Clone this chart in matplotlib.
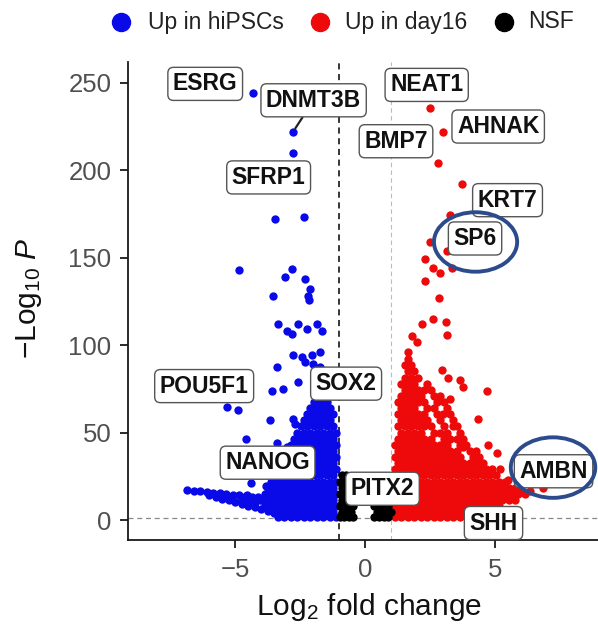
import matplotlib
matplotlib.use("Agg")
import matplotlib.pyplot as plt
from matplotlib.patches import Ellipse
from matplotlib.lines import Line2D
import numpy as np

plt.rcParams["font.family"] = ["Liberation Sans", "DejaVu Sans"]
plt.rcParams["mathtext.fontset"] = "custom"
plt.rcParams["mathtext.rm"] = "Liberation Sans"
plt.rcParams["mathtext.it"] = "Liberation Sans:italic"
plt.rcParams["mathtext.bf"] = "Liberation Sans:bold"

# ---- data: log2 fold change (lfc) and -log10 P (mlp) ----
# dense bands of genes, listed by -log10 P level
band_mlp = [1.6, 4.5, 8.0, 11.5, 15.0, 18.5, 22.0, 25.5, 29.0, 32.5, 36.0,
            39.5, 43.0, 46.5, 50.0, 53.5, 57.0, 60.5, 64.0, 67.5, 71.0,
            74.5, 78.0, 81.5, 85.0, 88.5, 92.0]

band_lfc_hipsc = [
    [-1.1, -1.35, -1.6, -1.85, -2.1, -2.35, -2.6, -2.85, -3.1, -3.35],
    [-1.22, -1.47, -1.72, -1.97, -2.22, -2.47, -2.72, -2.97, -3.22, -3.47],
    [-1.1, -1.35, -1.6, -1.85, -2.1, -2.35, -2.6, -2.85, -3.1, -3.35, -3.6, -3.85],
    [-1.22, -1.47, -1.72, -1.97, -2.22, -2.47, -2.72, -2.97, -3.22, -3.47, -3.72, -3.97],
    [-1.1, -1.35, -1.6, -1.85, -2.1, -2.35, -2.6, -2.85, -3.1, -3.35, -3.6, -3.85],
    [-1.22, -1.47, -1.72, -1.97, -2.22, -2.47, -2.72, -2.97, -3.22, -3.47, -3.72],
    [-1.1, -1.35, -1.6, -1.85, -2.1, -2.35, -2.6, -2.85, -3.1, -3.35, -3.6],
    [-1.22, -1.47, -1.72, -1.97, -2.22, -2.47, -2.72, -2.97, -3.22, -3.47],
    [-1.1, -1.35, -1.6, -1.85, -2.1, -2.35, -2.6, -2.85, -3.1, -3.35],
    [-1.22, -1.47, -1.72, -1.97, -2.22, -2.47, -2.72, -2.97, -3.22],
    [-1.1, -1.35, -1.6, -1.85, -2.1, -2.35, -2.6, -2.85, -3.1],
    [-1.22, -1.47, -1.72, -1.97, -2.22, -2.47, -2.72, -2.97],
    [-1.1, -1.35, -1.6, -1.85, -2.1, -2.35, -2.6, -2.85],
    [-1.22, -1.47, -1.72, -1.97, -2.22, -2.47, -2.72],
    [-1.1, -1.35, -1.6, -1.85, -2.1, -2.35, -2.6],
    [-1.22, -1.47, -1.72, -1.97, -2.22, -2.47],
    [-1.35, -1.6, -1.85, -2.1, -2.35],
    [-1.22, -1.47, -1.72, -1.97, -2.22],
    [-1.35, -1.6, -1.85, -2.1],
    [-1.47, -1.72, -1.97],
    [-1.6, -1.85],
]

band_lfc_day16 = [
    [1.15, 1.4, 1.65, 1.9, 2.15, 2.4, 2.65, 2.9, 3.15, 3.4, 3.65],
    [1.27, 1.52, 1.77, 2.02, 2.27, 2.52, 2.77, 3.02, 3.27, 3.52, 3.77, 4.02, 4.27, 4.52],
    [1.15, 1.4, 1.65, 1.9, 2.15, 2.4, 2.65, 2.9, 3.15, 3.4, 3.65, 3.9, 4.15, 4.4, 4.65, 4.9, 5.15],
    [1.27, 1.52, 1.77, 2.02, 2.27, 2.52, 2.77, 3.02, 3.27, 3.52, 3.77, 4.02, 4.27, 4.52, 4.77, 5.02, 5.27, 5.52, 5.77],
    [1.15, 1.4, 1.65, 1.9, 2.15, 2.4, 2.65, 2.9, 3.15, 3.4, 3.65, 3.9, 4.15, 4.4, 4.65, 4.9, 5.15, 5.4, 5.65, 5.9, 6.15],
    [1.27, 1.52, 1.77, 2.02, 2.27, 2.52, 2.77, 3.02, 3.27, 3.52, 3.77, 4.02, 4.27, 4.52, 4.77, 5.02, 5.27, 5.52, 5.77],
    [1.15, 1.4, 1.65, 1.9, 2.15, 2.4, 2.65, 2.9, 3.15, 3.4, 3.65, 3.9, 4.15, 4.4, 4.65, 4.9, 5.15, 5.4],
    [1.27, 1.52, 1.77, 2.02, 2.27, 2.52, 2.77, 3.02, 3.27, 3.52, 3.77, 4.02, 4.27, 4.52, 4.77, 5.02],
    [1.15, 1.4, 1.65, 1.9, 2.15, 2.4, 2.65, 2.9, 3.15, 3.4, 3.65, 3.9, 4.15, 4.4, 4.65, 4.9],
    [1.27, 1.52, 1.77, 2.02, 2.27, 2.52, 2.77, 3.02, 3.27, 3.52, 3.77, 4.02, 4.27, 4.52],
    [1.15, 1.4, 1.65, 1.9, 2.15, 2.4, 2.65, 2.9, 3.15, 3.4, 3.65, 4.15, 4.4],
    [1.27, 1.52, 1.77, 2.02, 2.27, 2.52, 2.77, 3.02, 3.27, 3.52, 4.02, 4.27],
    [1.15, 1.4, 1.65, 1.9, 2.15, 2.4, 2.65, 2.9, 3.15, 3.65, 3.9],
    [1.27, 1.52, 1.77, 2.02, 2.27, 2.52, 3.02, 3.27, 3.52, 3.77],
    [1.4, 1.65, 1.9, 2.15, 2.65, 2.9, 3.15, 3.65],
    [1.27, 1.52, 1.77, 2.02, 2.27, 2.52, 3.02, 3.52],
    [1.4, 1.65, 1.9, 2.15, 2.4, 2.9, 3.4],
    [1.27, 1.52, 1.77, 2.02, 2.27, 2.77, 3.27],
    [1.4, 1.65, 1.9, 2.4, 2.65, 3.15],
    [1.27, 1.52, 1.77, 2.02, 2.27, 2.77, 3.02],
    [1.4, 1.65, 1.9, 2.15, 2.65, 2.9],
    [1.52, 1.77, 2.02, 2.27, 2.52],
    [1.4, 1.65, 1.9, 2.4],
    [1.52, 1.77, 2.02],
    [1.65, 1.9],
    [1.52, 1.77],
    [1.65],
]

# long low-significance tail of hiPSC genes
tail_lfc = [-6.85, -6.6, -6.35, -6.1, -5.85, -5.6, -5.35, -5.1, -4.85, -4.6, -4.35, -4.1,
            -6.0, -5.75, -5.5, -5.25, -5.0, -4.75, -4.5, -4.25, -4.0, -3.75, -3.5,
            -4.75, -4.5, -4.25]
tail_mlp = [17.4, 16.9, 16.5, 16.1, 15.7, 15.3, 14.9, 14.5, 14.1, 13.7, 13.3, 12.9,
            14.4, 13.4, 12.3, 11.3, 10.3, 9.3, 8.3, 7.2, 6.2, 5.2, 4.2,
            11.8, 10.9, 10.2]

# isolated genes
single_lfc = [-3.46, -2.35, -4.85, -2.8, -3.08, -2.3, -2.1, -2.2, -2.15, -3.54,
              -3.35, -3.0, -2.8, -2.58, -2.23, -1.85, -1.65,
              -2.77, -2.42, -2.04, -1.73, -2.3, -2.0, -1.73, -3.38,
              -3.58, -3.15, -2.58, -3.65, -2.77, -2.7, -4.58, -4.9,
              -4.4, -3.8, -3.4, -4.54, -4.04, -3.4,
              2.5, 3.15, 2.3, 2.6, 2.9, 3.35, 2.3, 2.85,
              2.2, 2.6, 3.1, 3.15, 1.8, 2.0, 1.65,
              2.96, 3.2, 3.65, 3.77, 4.69, 3.27, 3.0, 4.35, 3.4,
              3.73, 3.77, 4.73, 5.08, 5.2, 4.69, 5.5, 5.96, 6.35]
single_mlp = [172, 173, 143, 143.4, 139, 137.6, 132, 128, 126, 128,
              112, 108, 106.6, 112, 109, 112, 108,
              94.5, 93.3, 94.5, 96, 90.4, 89, 87.5, 87.5,
              74, 75, 79, 57, 57.6, 54.7, 46.5, 62.8,
              21, 19.6, 23, 14.4, 11.5, 44,
              159, 154, 149, 144, 141, 144, 136.5, 127,
              112, 115, 113.5, 106, 105, 102, 96,
              86, 81, 80, 76, 73.7, 69, 60.5, 57.6, 54,
              44, 41.5, 43, 38.6, 29, 27, 23, 17.3, 16.7]

# genes that do not pass the fold-change cut-off
nsf_lfc = [-0.98, -0.8, -0.62, -0.45,
           -0.89, -0.71, -0.53,
           -0.98, -0.8, -0.62, -0.45,
           -0.89, -0.71, -0.53,
           -0.98, -0.8, -0.62,
           -0.89, -0.71,
           -0.98, -0.8, -0.64,
           -0.89, -0.72,
           0.35, 0.53, 0.71, 0.89,
           0.44, 0.62, 0.8, 0.98,
           0.35, 0.53, 0.71, 0.89,
           0.5, 0.68, 0.86]
nsf_mlp = [1.6, 1.6, 1.6, 1.6,
           4.5, 4.5, 4.5,
           8.0, 8.0, 8.0, 8.0,
           11.5, 11.5, 11.5,
           15.0, 15.0, 15.0,
           18.5, 18.5,
           22.0, 22.0, 22.0,
           25.5, 25.5,
           1.6, 1.6, 1.6, 1.6,
           4.5, 4.5, 4.5, 4.5,
           8.0, 8.0, 8.0, 8.0,
           10.5, 10.5, 10.5]

# labelled genes
gene_names = ["ESRG", "DNMT3B", "SFRP1", "POU5F1", "SOX2", "NANOG",
              "NEAT1", "AHNAK", "BMP7", "KRT7", "SP6", "PITX2", "AMBN", "SHH"]
gene_lfc = [-4.3, -2.77, -2.77, -5.3, -1.5, -3.0,
            2.5, 3.0, 2.8, 3.73, 3.27, 1.3, 6.85, 4.3]
gene_mlp = [244, 222, 210, 64.5, 72, 42,
            235.6, 222, 204, 192, 174.5, 8, 18.4, 4]

legend_labels = ["Up in hiPSCs", "Up in day16", "NSF"]

# ---- layout of label boxes (centre of each box, data units) ----
label_pos = {
    "ESRG": (-6.15, 249.4), "DNMT3B": (-1.98, 240.0), "SFRP1": (-3.71, 195.9),
    "POU5F1": (-6.19, 76.6), "SOX2": (-0.73, 78.0), "NANOG": (-3.75, 32.8),
    "NEAT1": (2.37, 248.8), "AHNAK": (5.12, 225.0), "BMP7": (1.19, 216.6),
    "KRT7": (5.48, 182.9), "SP6": (4.23, 161.0), "PITX2": (0.67, 17.9),
    "AMBN": (7.25, 27.9), "SHH": (4.94, -1.7),
}
connected = {"DNMT3B"}
circled = {"SP6": (4.25, 159.0, 3.2, 34.0), "AMBN": (7.23, 30.0, 3.25, 34.6)}

FC_CUT = 1.0
P_CUT = 1.3
col_hipsc = "#0A0AE8"
col_day16 = "#EE0A0A"
col_nsf = "#000000"

# assemble all genes
lfc_all, mlp_all = [], []
for y, xs in zip(band_mlp, band_lfc_hipsc):
    lfc_all += xs
    mlp_all += [y] * len(xs)
for y, xs in zip(band_mlp, band_lfc_day16):
    lfc_all += xs
    mlp_all += [y] * len(xs)
lfc_all += tail_lfc + single_lfc + gene_lfc
mlp_all += tail_mlp + single_mlp + gene_mlp
lfc_all = np.array(lfc_all + nsf_lfc)
mlp_all = np.array(mlp_all + nsf_mlp)

up_hipsc = (lfc_all < -FC_CUT) & (mlp_all > P_CUT)
up_day16 = (lfc_all > FC_CUT) & (mlp_all > P_CUT)
nsf = ~(up_hipsc | up_day16)

W, H = 598, 628
AX_L, AX_R, AX_T, AX_B = 128, 598, 62, 540
fig = plt.figure(figsize=(W / 100, H / 100), dpi=100)
ax = fig.add_axes([AX_L / W, (H - AX_B) / H, (AX_R - AX_L) / W, (AX_B - AX_T) / H])

pt = 36
ax.scatter(lfc_all[up_hipsc], mlp_all[up_hipsc], s=pt, c=col_hipsc, linewidths=0, zorder=3)
ax.scatter(lfc_all[up_day16], mlp_all[up_day16], s=pt, c=col_day16, linewidths=0, zorder=3)
ax.scatter(lfc_all[nsf], mlp_all[nsf], s=pt, c=col_nsf, linewidths=0, zorder=3)

ax.axvline(-FC_CUT, color="black", ls=(0, (4, 3)), lw=1.1, zorder=2)
ax.axvline(FC_CUT, color="#BBBBBB", ls=(0, (4, 3)), lw=0.8, zorder=2)
ax.axhline(P_CUT, color="#888888", ls=(0, (4, 3)), lw=0.9, zorder=2)

ax.set_xlim(-9.12, 8.96)
ax.set_ylim(-11.4, 261.9)
ax.set_xticks([-5, 0, 5])
ax.set_xticklabels(["\u22125", "0", "5"])
ax.set_yticks([0, 50, 100, 150, 200, 250])
for s in ("top", "right"):
    ax.spines[s].set_visible(False)
for s in ("left", "bottom"):
    ax.spines[s].set_linewidth(1.3)
    ax.spines[s].set_color("#1A1A1A")
ax.tick_params(axis="both", length=6, width=1.3, color="#1A1A1A",
               labelsize=18.5, labelcolor="#505050")
ax.tick_params(axis="y", pad=6)
ax.tick_params(axis="x", pad=7)

# gene labels
for name, gx, gy in zip(gene_names, gene_lfc, gene_mlp):
    tx, ty = label_pos[name]
    box = dict(boxstyle="round,pad=0.22,rounding_size=0.25", fc="white",
               ec="#555555", lw=1.0)
    if name in connected:
        ax.annotate(name, xy=(gx, gy), xytext=(tx, ty), ha="center", va="center",
                    fontsize=16.5, fontweight="bold", color="#111111", bbox=box,
                    arrowprops=dict(arrowstyle="-", color="#222222", lw=1.6,
                                    shrinkA=0, shrinkB=3),
                    zorder=6, annotation_clip=False)
    else:
        ax.text(tx, ty, name, ha="center", va="center", fontsize=16.5,
                fontweight="bold", color="#111111", bbox=box, zorder=6,
                clip_on=False)

for name, (cx, cy, w, h) in circled.items():
    ax.add_patch(Ellipse((cx, cy), w, h, fill=False, ec="#2C4B8C", lw=2.8,
                         zorder=7, clip_on=False))

fig.text(29 / W, 1 - 298 / H, r"$-\mathrm{Log}_{10}\ \mathit{P}$", rotation=90,
         ha="center", va="center", fontsize=21.5, color="#111111")
fig.text(369 / W, 1 - 607 / H, r"$\mathrm{Log}_{2}$ fold change",
         ha="center", va="center", fontsize=21.5, color="#111111")

# legend row along the top
legend_dot_x = [121, 320, 504]
legend_text_x = [148, 345, 528]
for lab, c, dx, tx in zip(legend_labels, (col_hipsc, col_day16, col_nsf),
                          legend_dot_x, legend_text_x):
    fig.add_artist(Line2D([dx / W], [1 - 22 / H], transform=fig.transFigure,
                          ls="", marker="o", ms=13, mfc=c, mec=c))
    fig.text(tx / W, 1 - 22 / H, lab, ha="left", va="center", fontsize=16.5,
             color="#222222")

fig.savefig("out.png", dpi=100)
